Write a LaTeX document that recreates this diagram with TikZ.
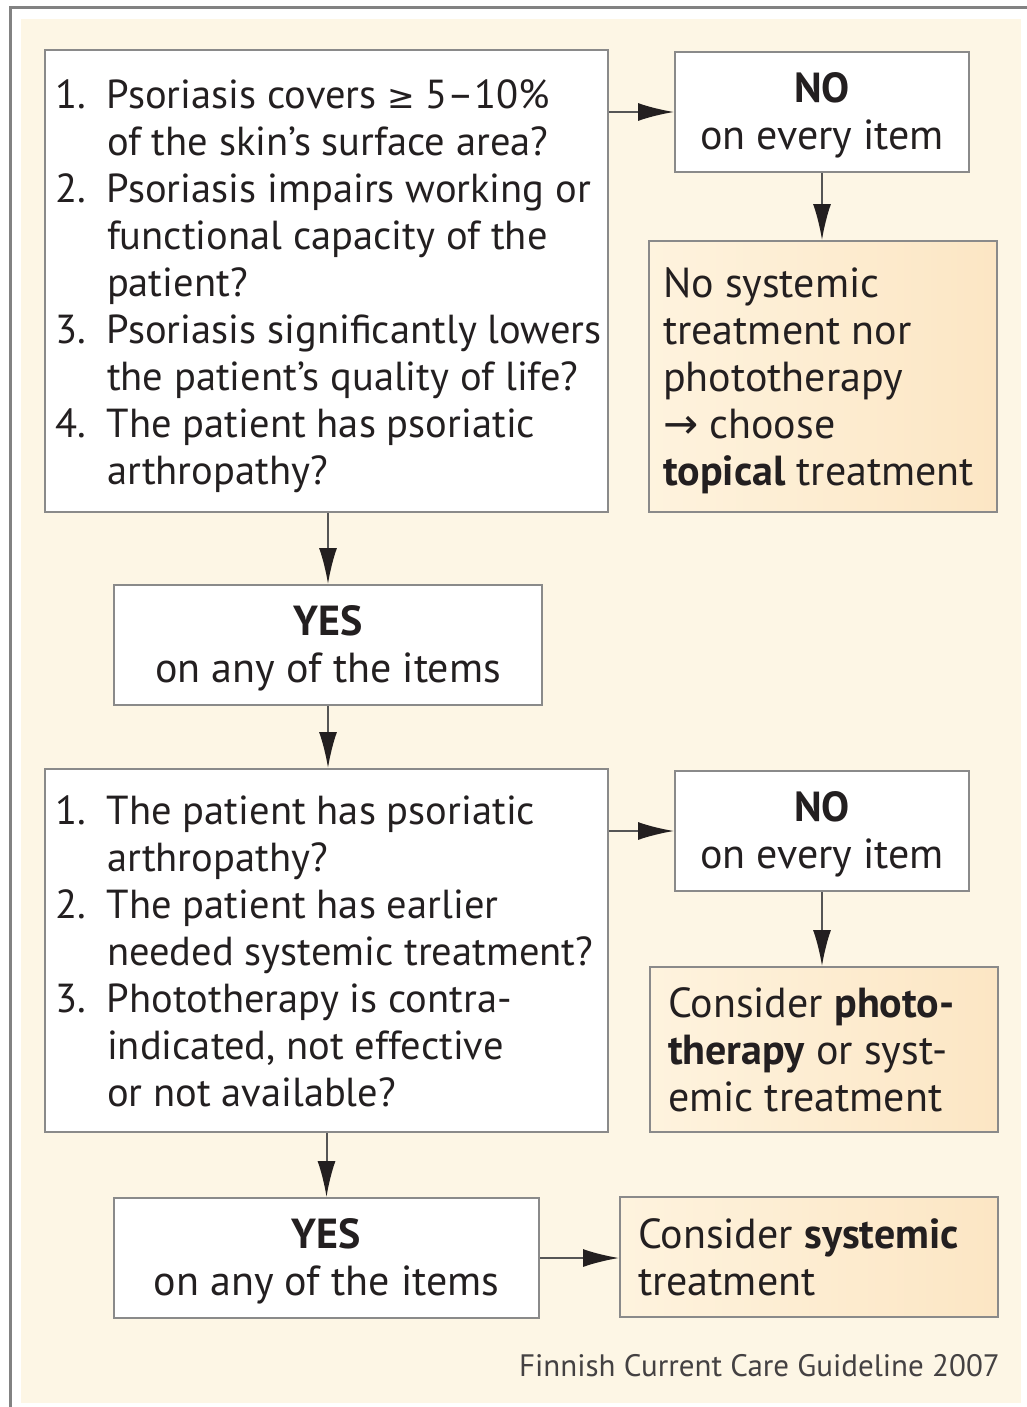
\documentclass[tikz,border=0pt]{standalone}
\usepackage{fontspec}
\setmainfont{PT Sans}
\newfontfamily\symfont{DejaVu Sans}
\usetikzlibrary{positioning}
\usetikzlibrary{arrows.meta}
\definecolor{cream}{RGB}{253,246,229}
\definecolor{framegrey}{RGB}{130,130,130}
\definecolor{boxline}{RGB}{138,138,138}
\definecolor{arrowgrey}{RGB}{85,85,85}
\definecolor{inkdark}{RGB}{35,31,32}
\definecolor{peachA}{RGB}{254,243,222}
\definecolor{peachB}{RGB}{252,230,196}
% text blocks, set a little low in their boxes
\newcommand{\critlines}[1]{\raisebox{-6pt}[\height][\depth]{\makebox[543pt][l]{%
  \begin{tabular}{@{}p{52pt}@{}l@{}}#1\end{tabular}}}}
\newcommand{\advlines}[2]{\raisebox{-6pt}[\height][\depth]{\makebox[#1][l]{%
  \begin{tabular}{@{}l@{}}#2\end{tabular}}}}
\newcommand{\anslines}[2]{\raisebox{-5pt}[\height][\depth]{%
  \begin{tabular}{@{}c@{}}\textbf{#1}\\#2\end{tabular}}}
\newcommand{\geqsym}{{\symfont\fontsize{33}{47}\selectfont ≥}}

\begin{document}
\begin{tikzpicture}[
    x=1pt, y=-1pt,
    >={Latex[length=36pt,width=18pt,color=inkdark]},
    % node styles
    crit/.style = {
      draw=boxline,
      line width=2pt,
      fill=white,
      minimum width=563pt,
      inner sep=0pt,
      font=\fontsize{40.5}{47}\selectfont,
      text=inkdark
    },
    answer/.style = {
      draw=boxline,
      line width=2pt,
      fill=white,
      minimum height=120pt,
      inner sep=0pt,
      font=\fontsize{42}{47}\selectfont,
      text=inkdark
    },
    advice/.style = {
      draw=boxline,
      line width=2pt,
      left color=peachA,
      right color=peachB,
      inner sep=0pt,
      font=\fontsize{42}{47}\selectfont,
      text=inkdark
    },
    % arrow styles
    arr/.style = {->, line width=2pt, draw=arrowgrey}
  ]

  % --- Frame
  \useasboundingbox (0,0) rectangle (1027,1407);
  \fill[cream] (21,19) rectangle (1021,1403);
  \draw[framegrey, line width=3pt] (1027,8) -- (10,8) -- (10,1407);

  % --- Nodes
  \node[crit, minimum height=462pt] (crit1) at (326.5,281) {\critlines{%
    1. & Psoriasis covers \geqsym{} 5--10\% \\
       & of the skin's surface area? \\
    2. & Psoriasis impairs working or \\
       & functional capacity of the \\
       & patient? \\
    3. & Psoriasis significantly lowers \\
       & the patient's quality of life? \\
    4. & The patient has psoriatic \\
       & arthropathy?}};

  \node[answer, minimum width=294pt] (no1) at (822,112)
    {\anslines{NO}{on every item}};

  \node[advice, minimum width=348pt, minimum height=271pt] (topical) at (823,376.5)
    {\advlines{320pt}{No systemic \\ treatment nor \\ phototherapy \\
     {\symfont →} choose \\ \textbf{topical} treatment}};

  \node[answer, minimum width=428pt] (yes1) at (328,645)
    {\anslines{YES}{on any of the items}};

  \node[crit, minimum height=363pt] (crit2) at (326.5,950.5) {\critlines{%
    1. & The patient has psoriatic \\
       & arthropathy? \\
    2. & The patient has earlier \\
       & needed systemic treatment? \\
    3. & Phototherapy is contra- \\
       & indicated, not effective \\
       & or not available?}};

  \node[answer, minimum width=294pt] (no2) at (822,831)
    {\anslines{NO}{on every item}};

  \node[advice, minimum width=348pt, minimum height=165pt] (photo) at (824,1049.5)
    {\advlines{312pt}{Consider \textbf{photo-} \\ \textbf{therapy} or syst- \\ emic treatment}};

  \node[answer, minimum width=425pt] (yes2) at (326.5,1258)
    {\anslines{YES}{on any of the items}};

  \node[advice, minimum width=378pt, minimum height=120pt] (systemic) at (809,1257)
    {\advlines{342pt}{Consider \textbf{systemic} \\ treatment}};

  \node[anchor=base east, inner sep=0pt, text=inkdark!85,
        font=\fontsize{31}{36}\selectfont] (source) at (1000,1376)
    {Finnish Current Care Guideline 2007};

  % --- Arrows
  \draw[arr] (crit1.east |- no1.west) -- (no1.west);
  \draw[arr] (no1.south) -- (no1.south |- topical.north);
  \draw[arr] (yes1.north |- crit1.south) -- (yes1.north);
  \draw[arr] (yes1.south) -- (yes1.south |- crit2.north);
  \draw[arr] (crit2.east |- no2.west) -- (no2.west);
  \draw[arr] (no2.south) -- (no2.south |- photo.north);
  \draw[arr] (yes2.north |- crit2.south) -- (yes2.north);
  \draw[arr] (yes2.east) -- (yes2.east -| systemic.west);

\end{tikzpicture}
\end{document}
